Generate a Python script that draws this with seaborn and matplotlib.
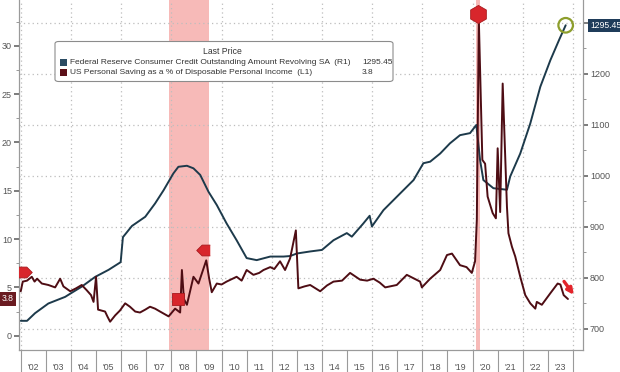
import matplotlib
matplotlib.use("Agg")
import matplotlib.pyplot as plt
from matplotlib.patches import FancyBboxPatch, Rectangle
import seaborn as sns
import pandas as pd
import numpy as np

# ---------------- data ----------------
credit_years = [2002.0, 2002.25, 2002.57, 2003.1, 2003.77, 2004.03, 2004.43, 2004.96,
                2005.5, 2005.98, 2006.07, 2006.43, 2006.96, 2007.35, 2007.69, 2008.08,
                2008.28, 2008.62, 2008.88, 2009.15, 2009.48, 2009.81, 2010.2, 2010.6,
                2011.0, 2011.4, 2011.94, 2012.47, 2012.73, 2013.0, 2013.53, 2014.0,
                2014.46, 2014.99, 2015.19, 2015.65, 2015.9, 2015.99, 2016.45, 2017.12,
                2017.65, 2018.04, 2018.31, 2018.71, 2019.1, 2019.5, 2019.9, 2020.15,
                2020.3, 2020.43, 2020.83, 2021.37, 2021.5, 2021.9, 2022.3, 2022.7,
                2023.1, 2023.45, 2023.71]
credit_values = [716, 716, 731, 750, 763, 771, 783, 802,
                 816, 831, 880, 902, 920, 946, 972, 1005,
                 1018, 1020, 1015, 1002, 969, 943, 907, 874,
                 839, 835, 842, 842, 843, 848, 852, 855,
                 874, 888, 881, 907, 922, 901, 933, 966,
                 992, 1025, 1028, 1044, 1064, 1080, 1084, 1100,
                 1031, 992, 976, 973, 999, 1044, 1103, 1175,
                 1227, 1267, 1295.45]

saving_years = [2002.0, 2002.08, 2002.25, 2002.44, 2002.55, 2002.65, 2002.84, 2003.1,
                2003.37, 2003.57, 2003.7, 2003.97, 2004.2, 2004.43, 2004.63, 2004.8,
                2004.9, 2005.0, 2005.08, 2005.36, 2005.45, 2005.56, 2005.76, 2005.95,
                2006.16, 2006.35, 2006.56, 2006.75, 2006.96, 2007.15, 2007.35, 2007.55,
                2007.89, 2008.15, 2008.35, 2008.42, 2008.5, 2008.62, 2008.88, 2009.08,
                2009.39, 2009.5, 2009.61, 2009.81, 2010.0, 2010.2, 2010.6, 2010.8,
                2011.0, 2011.27, 2011.5, 2011.67, 2011.94, 2012.1, 2012.33, 2012.53,
                2012.73, 2012.96, 2013.06, 2013.3, 2013.53, 2013.93, 2014.2, 2014.46,
                2014.8, 2015.12, 2015.52, 2015.8, 2016.05, 2016.3, 2016.52, 2016.98,
                2017.38, 2017.91, 2017.98, 2018.31, 2018.71, 2018.98, 2019.18, 2019.5,
                2019.76, 2019.97, 2020.1, 2020.17, 2020.25, 2020.39, 2020.5, 2020.6,
                2020.8, 2020.93, 2021.0, 2021.1, 2021.2, 2021.37, 2021.43, 2021.57,
                2021.7, 2021.9, 2022.1, 2022.3, 2022.5, 2022.56, 2022.76, 2023.1,
                2023.39, 2023.5, 2023.63, 2023.8]
saving_values = [4.6, 5.6, 5.7, 6.1, 5.6, 5.9, 5.4, 5.25,
                 5.0, 5.9, 5.1, 4.6, 4.9, 5.25, 4.7, 4.2,
                 3.5, 6.1, 2.7, 2.5, 2.0, 1.45, 2.1, 2.6,
                 3.35, 3.0, 2.5, 2.4, 2.7, 3.0, 2.8, 2.5,
                 2.0, 2.8, 2.4, 6.8, 3.8, 3.2, 6.1, 5.4,
                 7.8, 6.0, 4.5, 5.4, 5.3, 5.6, 6.1, 5.7,
                 6.8, 6.3, 6.5, 6.8, 7.1, 6.9, 7.7, 6.8,
                 8.0, 10.9, 4.9, 5.1, 5.25, 4.6, 5.2, 5.6,
                 5.7, 6.5, 5.8, 5.7, 5.9, 5.5, 5.0, 5.25,
                 6.3, 5.6, 5.0, 5.9, 6.8, 8.35, 8.5, 7.3,
                 7.1, 6.5, 7.7, 12.0, 32.7, 18.2, 17.8, 14.4,
                 12.7, 12.15, 19.4, 12.8, 26.1, 13.35, 10.6, 9.2,
                 8.2, 6.1, 4.2, 3.35, 2.8, 3.5, 3.2, 4.4,
                 5.4, 5.3, 4.2, 3.8]

recessions = [(2007.92, 2009.5), (2020.13, 2020.3)]
year_labels = ["'%02d" % (y % 100) for y in range(2002, 2024)]
left_ticks = [0, 5, 10, 15, 20, 25, 30]
right_ticks = [700, 800, 900, 1000, 1100, 1200, 1300]
right_tick_labels = ["700", "800", "900", "1000", "1100", "1200", ""]
event_years = [2002.17, 2008.25, 2009.28]
event_values = [6.6, 3.8, 8.9]
peak_event_year = [2020.23]
peak_event_value = [33.3]

credit_name = "Federal Reserve Consumer Credit Outstanding Amount Revolving SA  (R1)"
saving_name = "US Personal Saving as a % of Disposable Personal Income  (L1)"
credit_last = "1295.45"
saving_last = "3.8"

# ---------------- styling ----------------
sns.set_theme(style="white")
plt.rcParams["font.family"] = ["Liberation Sans", "DejaVu Sans"]

CREDIT_C = "#1d3a4b"
SAVING_C = "#4e0d14"
GRID_C = "#bdbdbd"
SPINE_C = "#9a9a9a"
TICK_TXT = "#555555"

fig = plt.figure(figsize=(6.2, 3.72), dpi=100)
ax = fig.add_axes([19 / 620, 22 / 372, (583 - 19) / 620, 350 / 372])
ax2 = ax.twinx()
ax.set_zorder(ax2.get_zorder() + 1)
ax.patch.set_visible(False)

# recession shading and grid on the back axis
for a, b in recessions:
    ax2.axvspan(a, b, color="#f7bab8", lw=0, zorder=0)
for y in range(2002, 2025, 2):
    ax2.axvline(y, color=GRID_C, ls=(0, (1, 2.5)), lw=0.9, zorder=0.5)
ax2.grid(axis="y", which="major", color=GRID_C, ls=(0, (1, 2.5)), lw=0.9)
ax2.set_axisbelow(True)

credit_df = pd.DataFrame({"year": credit_years, "value": credit_values})
saving_df = pd.DataFrame({"year": saving_years, "value": saving_values})
sns.lineplot(data=credit_df, x="year", y="value", ax=ax2, color=CREDIT_C, lw=1.4, zorder=3)
sns.lineplot(data=saving_df, x="year", y="value", ax=ax, color=SAVING_C, lw=1.4, zorder=3)

ax.set_xlim(2001.93, 2024.4)
ax.set_ylim(-1.48, 34.75)
ax2.set_ylim(658.8, 1345)
for a in (ax, ax2):
    a.set_xlabel("")
    a.set_ylabel("")

# x axis: separators at year boundaries, labels in between
ax.set_xticks(list(range(2002, 2025)))
ax.set_xticks([y + 0.5 for y in range(2002, 2024)], minor=True)
ax.set_xticklabels([], minor=False)
ax.set_xticklabels(year_labels, minor=True)
ax.tick_params(axis="x", which="major", length=17, width=0.8, color=SPINE_C,
               direction="out", bottom=True)
ax.tick_params(axis="x", which="minor", length=0, pad=9, labelsize=6.3,
               labelcolor=TICK_TXT, bottom=True)

# y axes
ax.set_yticks(left_ticks)
ax.set_yticks(np.arange(-0.0, 34, 2.5), minor=True)
ax.tick_params(axis="y", which="major", left=True, length=3.5, width=1.2, color="#666666",
               direction="out", pad=1.5, labelsize=6.5, labelcolor=TICK_TXT)
ax.tick_params(axis="y", which="minor", left=True, length=2, width=0.6, color="#888888",
               direction="out")
ax2.set_yticks(right_ticks)
ax2.set_yticklabels(right_tick_labels)
ax2.set_yticks(np.arange(700, 1345, 50), minor=True)
ax2.tick_params(axis="y", which="major", right=True, length=3.5, width=1.2, color="#666666",
                direction="out", pad=1.5, labelsize=6.5, labelcolor=TICK_TXT)
ax2.tick_params(axis="y", which="minor", right=True, length=2, width=0.6, color="#888888",
                direction="out")

for a in (ax, ax2):
    a.spines["top"].set_visible(False)
    for s in ("left", "right", "bottom"):
        a.spines[s].set_color(SPINE_C)
        a.spines[s].set_linewidth(0.8)

# event markers
house_r = [(-1, -0.8), (0.2, -0.8), (1, 0), (0.2, 0.8), (-1, 0.8)]
house_l = [(-x, y) for x, y in house_r]
ax.scatter(event_years[:1], event_values[:1], marker=house_r, s=95, color="#d8262c",
           edgecolor="#a81a1e", lw=0.6, zorder=5)
ax.scatter(event_years[1:2], event_values[1:2], marker="s", s=75, color="#d8262c",
           edgecolor="#a81a1e", lw=0.6, zorder=5)
ax.scatter(event_years[2:], event_values[2:], marker=house_l, s=95, color="#d8262c",
           edgecolor="#a81a1e", lw=0.6, zorder=5)
ax.scatter(peak_event_year, peak_event_value, marker="h", s=170, color="#d8262c",
           edgecolor="#a81a1e", lw=0.6, zorder=5, clip_on=False)
ax.annotate("", xy=(saving_years[-1] + 0.3, 4.0), xytext=(saving_years[-1] - 0.22, 5.85),
            arrowprops=dict(arrowstyle="-|>", color="#e3242b", lw=2.4, mutation_scale=9),
            zorder=6)

# last-value circle and labels
ax2.scatter([credit_years[-1]], [credit_values[-1]], s=110, facecolors="none",
            edgecolors="#8d9e2c", linewidths=1.6, zorder=6)
ax2.annotate(credit_last, xy=(1.0, credit_values[-1]), xycoords=("axes fraction", "data"),
             xytext=(5, 0), textcoords="offset points", ha="left", va="center",
             fontsize=6.2, color="white",
             bbox=dict(boxstyle="square,pad=0.25", fc="#1f3c5a", ec="none"))
ax.annotate(saving_last, xy=(0.0, float(saving_last)), xycoords=("axes fraction", "data"),
            xytext=(-4, 0), textcoords="offset points", ha="right", va="center",
            fontsize=6.2, color="white",
            bbox=dict(boxstyle="square,pad=0.25", fc="#6a1b21", ec="none"))

# legend box
W, H = 620.0, 372.0
def fx(px):
    return px / W
def fy(py):
    return (H - py) / H

fig.patches.append(FancyBboxPatch((fx(55), fy(81.5)), fx(393) - fx(55), fy(41.5) - fy(81.5),
                                  boxstyle="round,pad=0,rounding_size=0.006",
                                  transform=fig.transFigure, fc="white", ec="#8c8c8c",
                                  lw=0.8, zorder=10))
fig.text(fx(222), fy(52), "Last Price", ha="center", va="center", fontsize=6.2,
         color="#333333", zorder=11)
fig.patches.append(Rectangle((fx(59.5), fy(66)), fx(7), 7 / H, transform=fig.transFigure,
                             fc="#2b4c63", ec="none", zorder=11))
fig.patches.append(Rectangle((fx(59.5), fy(76)), fx(7), 7 / H, transform=fig.transFigure,
                             fc="#5c1119", ec="none", zorder=11))
fig.text(fx(70), fy(62.5), credit_name, ha="left", va="center", fontsize=6.0,
         color="#333333", zorder=11)
fig.text(fx(70), fy(72.5), saving_name, ha="left", va="center", fontsize=6.0,
         color="#333333", zorder=11)
fig.text(fx(362), fy(62.5), credit_last, ha="left", va="center", fontsize=6.0,
         color="#333333", zorder=11)
fig.text(fx(362), fy(72.5), saving_last, ha="left", va="center", fontsize=6.0,
         color="#333333", zorder=11)

fig.savefig("out.png", dpi=100, facecolor="white")
